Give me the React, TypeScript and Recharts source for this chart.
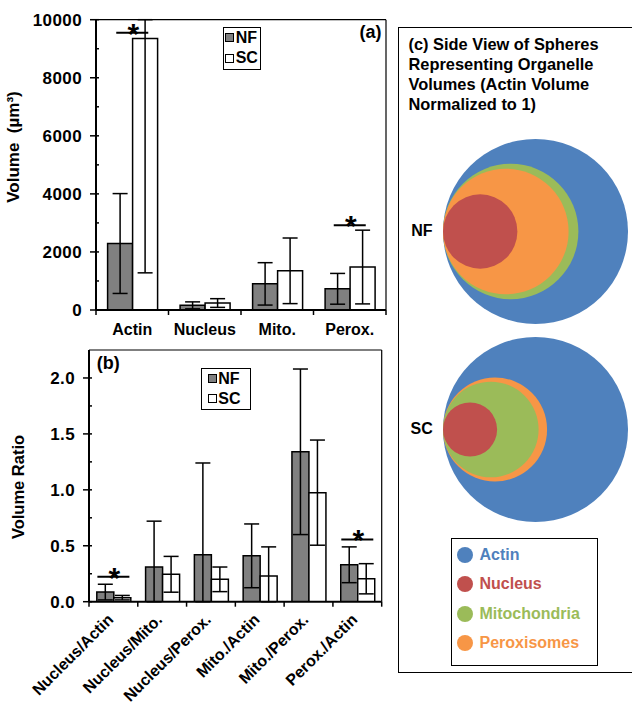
import React from "react";
import {
  Bar,
  BarChart,
  ErrorBar,
  Label,
  ReferenceDot,
  Scatter,
  ScatterChart,
  XAxis,
  YAxis,
  ZAxis,
} from "recharts";

const FONT = '"Liberation Sans", Arial, Helvetica, sans-serif';

// (a) organelle volumes in µm³, mean ± SD
const volumeCategories = ["Actin", "Nucleus", "Mito.", "Perox."];
const volumeNF = [2290, 160, 900, 730];
const volumeNFErr = [1720, 120, 730, 530];
const volumeSC = [9350, 240, 1350, 1480];
const volumeSCErr = [8070, 150, 1130, 1270];
const volumeTicks = [0, 1000, 2000, 3000, 4000, 5000, 6000, 7000, 8000, 9000, 10000];
const volumeSigCategories = ["Actin", "Perox."];
const volumeSigLevels = [9550, 2920];

// (b) volume ratios, mean ± SD
const ratioCategories = [
  "Nucleus/Actin",
  "Nucleus/Mito.",
  "Nucleus/Perox.",
  "Mito./Actin",
  "Mito./Perox.",
  "Perox./Actin",
];
const ratioNF = [0.086, 0.31, 0.42, 0.41, 1.34, 0.33];
const ratioNFErr = [0.07, 0.41, 0.82, 0.285, 0.74, 0.16];
const ratioSC = [0.036, 0.245, 0.2, 0.23, 0.975, 0.205];
const ratioSCErr = [0.02, 0.16, 0.11, 0.26, 0.47, 0.135];
const ratioTicks = [0, 0.25, 0.5, 0.75, 1, 1.25, 1.5, 1.75, 2];
const ratioSigCategories = ["Nucleus/Actin", "Perox./Actin"];
const ratioSigLevels = [0.223, 0.557];

// (c) sphere volumes, actin = 1
const sphereOrganelles = ["Actin", "Nucleus", "Mitochondria", "Peroxisomes"];
const sphereNF = [1, 0.065, 0.392, 0.313];
const sphereSC = [1, 0.025, 0.138, 0.178];

const legendSeries = ["NF", "SC"];
const SERIES_FILL: Record<string, string> = { NF: "#808080", SC: "#ffffff" };
const SPHERE_COLORS: Record<string, string> = {
  Actin: "#4f81bd",
  Nucleus: "#c0504d",
  Mitochondria: "#9bbb59",
  Peroxisomes: "#f79646",
};
const SPHERE_R = 92.5;

const SigMark = ({ cx, cy }: { cx: number; cy: number }) => (
  <g>
    <line x1={cx - 16} x2={cx + 16} y1={cy} y2={cy} stroke="#000" strokeWidth={2} />
    <text x={cx + 1} y={cy + 11} textAnchor="middle" fontSize={30} fontWeight="bold" fill="#000">
      *
    </text>
  </g>
);

// error bars stop at the plot edges, like the clipped ones in the figure
const clipErr = (value: number, err: number, max: number) => [Math.min(err, value), Math.min(err, max - value)];

interface PairChartProps {
  categories: string[];
  nf: number[];
  nfErr: number[];
  sc: number[];
  scErr: number[];
  ticks: number[];
  majorStep: number;
  domainMax: number;
  decimals: number;
  sigCategories: string[];
  sigLevels: number[];
  width: number;
  height: number;
  top: number;
  right: number;
  yAxisWidth: number;
  xAxisHeight: number;
  rotateLabels?: boolean;
  panel: string;
  panelRight: boolean;
  panelDx: number;
  panelDy: number;
  yTitle: string;
  yTitleSize: number;
  yTitleX: number;
  yTitleY: number;
}

function PairChart(props: PairChartProps) {
  const rows = props.categories.map((cat, i) => ({
    cat,
    nf: props.nf[i],
    nfErr: clipErr(props.nf[i], props.nfErr[i], props.domainMax),
    sc: props.sc[i],
    scErr: clipErr(props.sc[i], props.scErr[i], props.domainMax),
  }));
  const plotWidth = props.width - props.yAxisWidth - props.right;
  const halfBand = plotWidth / props.categories.length / 2;

  const xTick = (p: any) => {
    const axisY = p.y - 5;
    const last = p.index === props.categories.length - 1;
    const tx = p.x + 1;
    const ty = axisY + 19;
    return (
      <g>
        <line x1={p.x - halfBand} x2={p.x - halfBand} y1={axisY} y2={axisY + 5} stroke="#000" strokeWidth={1.5} />
        {last && (
          <line x1={p.x + halfBand} x2={p.x + halfBand} y1={axisY} y2={axisY + 5} stroke="#000" strokeWidth={1.5} />
        )}
        {props.rotateLabels ? (
          <text
            x={tx}
            y={ty}
            textAnchor="end"
            transform={`rotate(-45 ${tx} ${ty})`}
            fontSize={16}
            fontWeight="bold"
            fill="#000"
          >
            {p.payload.value}
          </text>
        ) : (
          <text x={p.x} y={axisY + 25} textAnchor="middle" fontSize={16} fontWeight="bold" fill="#000">
            {p.payload.value}
          </text>
        )}
      </g>
    );
  };

  const yTick = (p: any) => {
    const axisX = p.x + 14;
    const v = p.payload.value as number;
    const major = Math.abs(v / props.majorStep - Math.round(v / props.majorStep)) < 1e-6;
    return (
      <g>
        <line x1={major ? axisX - 6 : axisX} x2={axisX + 3} y1={p.y} y2={p.y} stroke="#000" strokeWidth={1.5} />
        {major && (
          <text
            x={p.x}
            y={p.y + 6}
            textAnchor="end"
            fontSize={17}
            fontWeight="bold"
            letterSpacing={0.4}
            fill="#000"
          >
            {v.toFixed(props.decimals)}
          </text>
        )}
      </g>
    );
  };

  const panelLabel = ({ viewBox }: any) => {
    const vb = viewBox || { x: props.yAxisWidth, y: props.top - 1, width: plotWidth, height: 1 };
    const plotTop = vb.y + (vb.height || 0);
    const x = props.panelRight ? vb.x + vb.width - props.panelDx : vb.x + props.panelDx;
    return (
      <text
        x={x}
        y={plotTop + props.panelDy}
        textAnchor={props.panelRight ? "end" : "start"}
        fontSize={18}
        fontWeight="bold"
        fill="#000"
      >
        {props.panel}
      </text>
    );
  };

  return (
    <BarChart
      width={props.width}
      height={props.height}
      data={rows}
      margin={{ top: props.top - 1, right: props.right - 1, left: 0, bottom: 0 }}
      barCategoryGap="16%"
      barGap={0}
    >
      {/* thin frame on the top and right of the plot */}
      <XAxis
        xAxisId="frame"
        orientation="top"
        dataKey="cat"
        height={1}
        tick={false}
        tickLine={false}
        axisLine={{ stroke: "#000", strokeWidth: 1.2 }}
      >
        <Label content={panelLabel} />
      </XAxis>
      <YAxis
        yAxisId="frame"
        orientation="right"
        width={1}
        domain={[0, props.domainMax]}
        tick={false}
        tickLine={false}
        axisLine={{ stroke: "#000", strokeWidth: 1.2 }}
      />
      <XAxis
        dataKey="cat"
        height={props.xAxisHeight}
        interval={0}
        axisLine={{ stroke: "#000", strokeWidth: 2 }}
        tickLine={false}
        tickSize={5}
        tickMargin={0}
        tick={xTick}
      />
      <YAxis
        width={props.yAxisWidth}
        domain={[0, props.domainMax]}
        ticks={props.ticks}
        allowDataOverflow
        interval={0}
        axisLine={{ stroke: "#000", strokeWidth: 2 }}
        tickLine={false}
        tickSize={5}
        tickMargin={9}
        tick={yTick}
      >
        <Label
          content={() => (
            <text
              x={props.yTitleX}
              y={props.yTitleY}
              transform={`rotate(-90 ${props.yTitleX} ${props.yTitleY})`}
              textAnchor="middle"
              fontSize={props.yTitleSize}
              fontWeight="bold"
              fill="#000"
              style={{ whiteSpace: "pre" }}
            >
              {props.yTitle}
            </text>
          )}
        />
      </YAxis>
      <Bar dataKey="nf" fill={SERIES_FILL.NF} stroke="#000" strokeWidth={1.5} isAnimationActive={false}>
        <ErrorBar dataKey="nfErr" direction="y" width={7.5} stroke="#000" strokeWidth={1.5} />
      </Bar>
      <Bar dataKey="sc" fill={SERIES_FILL.SC} stroke="#000" strokeWidth={1.5} isAnimationActive={false}>
        <ErrorBar dataKey="scErr" direction="y" width={7.5} stroke="#000" strokeWidth={1.5} />
      </Bar>
      {props.sigCategories.map((c, i) => (
        <ReferenceDot
          key={c}
          x={c}
          y={props.sigLevels[i]}
          r={0}
          ifOverflow="visible"
          shape={(p: any) => <SigMark cx={p.cx} cy={p.cy} />}
        />
      ))}
    </BarChart>
  );
}

interface PairLegendProps {
  left: number;
  top: number;
  width: number;
  height: number;
  padLeft: number;
  rowHeight: number;
  gap: number;
}

const PairLegend = ({ left, top, width, height, padLeft, rowHeight, gap }: PairLegendProps) => (
  <div
    style={{
      position: "absolute",
      left,
      top,
      width,
      height,
      boxSizing: "border-box",
      border: "1.5px solid #000",
      background: "#fff",
      paddingLeft: padLeft,
    }}
  >
    {legendSeries.map((s) => (
      <div
        key={s}
        style={{ display: "flex", alignItems: "center", height: rowHeight, fontSize: 16, fontWeight: "bold", lineHeight: 1 }}
      >
        <span
          style={{
            width: 9,
            height: 9,
            boxSizing: "border-box",
            border: "1px solid #000",
            background: SERIES_FILL[s],
            marginRight: gap,
          }}
        />
        {s}
      </div>
    ))}
  </div>
);

const renderSphere = (p: any) => {
  const r = p.size != null ? Math.sqrt(p.size / Math.PI) : p.width / 2;
  return <circle cx={p.cx} cy={p.cy} r={r} fill={SPHERE_COLORS[p.payload.name]} />;
};

function SphereChart({ volumes, left, top }: { volumes: number[]; left: number; top: number }) {
  // every sphere touches the left side of the actin sphere
  const points = sphereOrganelles
    .map((name, i) => {
      const r = Math.cbrt(volumes[i]);
      return { name, x: r, y: 0, z: r * r };
    })
    .sort((a, b) => b.z - a.z);
  return (
    <div style={{ position: "absolute", left, top }}>
      <ScatterChart width={2 * SPHERE_R} height={2 * SPHERE_R} margin={{ top: 0, right: 0, bottom: 0, left: 0 }}>
        <XAxis type="number" dataKey="x" domain={[0, 2]} hide />
        <YAxis type="number" dataKey="y" domain={[-1, 1]} hide />
        <ZAxis type="number" dataKey="z" domain={[0, 1]} range={[0, Math.PI * SPHERE_R * SPHERE_R]} />
        <Scatter data={points} isAnimationActive={false} shape={renderSphere} />
      </ScatterChart>
    </div>
  );
}

export default function App() {
  return (
    <div
      style={{
        position: "absolute",
        left: 0,
        top: 0,
        width: 632,
        height: 705,
        overflow: "hidden",
        background: "#fff",
        fontFamily: FONT,
        color: "#000",
      }}
    >
      <div style={{ position: "absolute", left: 0, top: 0 }}>
        <PairChart
          categories={volumeCategories}
          nf={volumeNF}
          nfErr={volumeNFErr}
          sc={volumeSC}
          scErr={volumeSCErr}
          ticks={volumeTicks}
          majorStep={2000}
          domainMax={10000}
          decimals={0}
          sigCategories={volumeSigCategories}
          sigLevels={volumeSigLevels}
          width={400}
          height={340}
          top={19.7}
          right={14}
          yAxisWidth={96}
          xAxisHeight={30}
          panel="(a)"
          panelRight
          panelDx={4.5}
          panelDy={18.3}
          yTitle="Volume  (µm³)"
          yTitleSize={17}
          yTitleX={19}
          yTitleY={147}
        />
      </div>
      <div style={{ position: "absolute", left: 0, top: 330 }}>
        <PairChart
          categories={ratioCategories}
          nf={ratioNF}
          nfErr={ratioNFErr}
          sc={ratioSC}
          scErr={ratioSCErr}
          ticks={ratioTicks}
          majorStep={0.5}
          domainMax={2.25}
          decimals={1}
          sigCategories={ratioSigCategories}
          sigLevels={ratioSigLevels}
          width={400}
          height={375}
          top={20}
          right={18.3}
          yAxisWidth={89}
          xAxisHeight={103.3}
          rotateLabels
          panel="(b)"
          panelRight={false}
          panelDx={7.7}
          panelDy={19.3}
          yTitle="Volume Ratio"
          yTitleSize={16.5}
          yTitleX={24}
          yTitleY={157}
        />
      </div>
      <PairLegend left={222.7} top={26.7} width={38.3} height={43.3} padLeft={1} rowHeight={20.5} gap={2} />
      <PairLegend left={200.7} top={367.7} width={50} height={42.3} padLeft={6} rowHeight={20} gap={1.6} />

      <div
        style={{
          position: "absolute",
          left: 398,
          top: 27.3,
          width: 260,
          height: 645.4,
          boxSizing: "border-box",
          border: "1.5px solid #000",
        }}
      >
        <div
          style={{
            position: "absolute",
            left: 9.5,
            top: 5.7,
            fontSize: 16.4,
            fontWeight: "bold",
            lineHeight: "20px",
            whiteSpace: "nowrap",
          }}
        >
          (c) Side View of Spheres
          <br />
          Representing Organelle
          <br />
          Volumes (Actin Volume
          <br />
          Normalized to 1)
        </div>
        <div style={{ position: "absolute", left: 12.2, top: 195.1, fontSize: 16, fontWeight: "bold", lineHeight: "16px" }}>
          NF
        </div>
        <div style={{ position: "absolute", left: 11.5, top: 392.7, fontSize: 16, fontWeight: "bold", lineHeight: "16px" }}>
          SC
        </div>
      </div>
      <SphereChart volumes={sphereNF} left={443.3} top={139.2} />
      <SphereChart volumes={sphereSC} left={443.3} top={336.8} />

      <div
        style={{
          position: "absolute",
          left: 450.7,
          top: 538.3,
          width: 147,
          height: 127.7,
          boxSizing: "border-box",
          border: "1.5px solid #000",
          paddingLeft: 5.8,
          paddingTop: 1.3,
          background: "#fff",
        }}
      >
        {sphereOrganelles.map((name) => (
          <div
            key={name}
            style={{
              display: "flex",
              alignItems: "center",
              height: 29.2,
              fontSize: 16,
              fontWeight: "bold",
              lineHeight: 1,
              color: SPHERE_COLORS[name],
            }}
          >
            <span
              style={{
                width: 16,
                height: 16,
                borderRadius: "50%",
                background: SPHERE_COLORS[name],
                marginRight: 6,
                flex: "none",
              }}
            />
            {name}
          </div>
        ))}
      </div>
    </div>
  );
}
